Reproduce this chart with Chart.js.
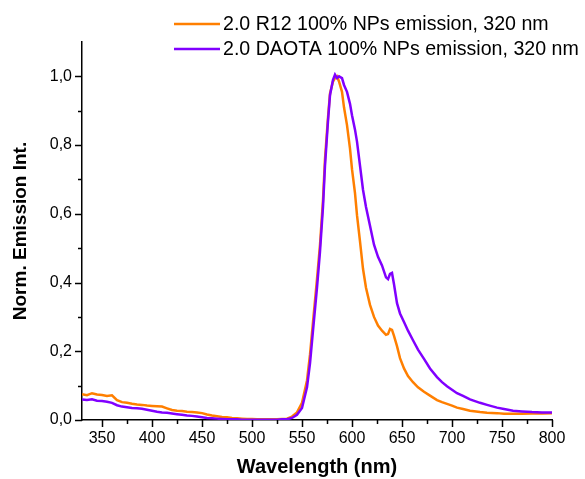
<!DOCTYPE html>
<html lang="en">
  <head>
    <meta charset="UTF-8" />
    <title>Normalized emission spectra</title>
    <script src="https://cdn.jsdelivr.net/npm/chart.js"></script>
    <style>
      html, body { margin: 0; padding: 0; background: #fff; }
      #wrap { width: 585px; height: 479px; }
    </style>
  </head>
  <body>
    <div id="wrap"><canvas id="spectrum"></canvas></div>
    <script>
      // Wavelength grid (nm), shared by both spectra
      const wavelength = [
        330, 335, 340, 345, 350, 355, 360, 365, 370, 375, 380, 385, 390, 395, 400,
        405, 410, 415, 420, 425, 430, 435, 440, 445, 450, 455, 460, 465, 470, 475,
        480, 485, 490, 495, 500, 505, 510, 515, 520, 525, 530, 535, 540, 545, 550,
        555, 558, 561, 565, 568, 571, 573, 576, 578, 581, 583, 585, 587, 590, 592,
        595, 598, 600, 603, 605, 608, 611, 614, 618, 622, 626, 630, 634, 636, 638,
        640, 642, 645, 648, 652, 656, 661, 666, 672, 678, 685, 690, 695, 700, 705,
        711, 718, 728, 735, 745, 752, 761, 770, 780, 790, 800
      ];
      // 2.0 R12 100% NPs emission, 320 nm
      const r12 = [
        0.075, 0.072, 0.078, 0.074, 0.073, 0.070, 0.072, 0.058, 0.052, 0.050, 0.047, 0.045, 0.044, 0.042, 0.041,
        0.040, 0.039, 0.034, 0.029, 0.027, 0.026, 0.024, 0.023, 0.022, 0.020, 0.016, 0.013, 0.011, 0.009, 0.008,
        0.006, 0.005, 0.004, 0.003, 0.003, 0.002, 0.002, 0.002, 0.002, 0.002, 0.003, 0.004, 0.010, 0.022, 0.050,
        0.115, 0.190, 0.285, 0.410, 0.510, 0.640, 0.760, 0.880, 0.950, 0.985, 0.995, 1.000, 0.985, 0.955, 0.910,
        0.858, 0.790, 0.730, 0.660, 0.596, 0.520, 0.440, 0.385, 0.335, 0.300, 0.275, 0.260, 0.248, 0.250, 0.265,
        0.262, 0.245, 0.215, 0.180, 0.150, 0.128, 0.110, 0.095, 0.082, 0.071, 0.058, 0.052, 0.047, 0.042, 0.036,
        0.032, 0.027, 0.023, 0.021, 0.020, 0.018, 0.018, 0.018, 0.019, 0.019, 0.020
      ];
      // 2.0 DAOTA 100% NPs emission, 320 nm
      const daota = [
        0.060, 0.058, 0.060, 0.056, 0.055, 0.053, 0.050, 0.043, 0.039, 0.037, 0.035, 0.034, 0.033, 0.030, 0.027,
        0.024, 0.022, 0.021, 0.019, 0.017, 0.015, 0.013, 0.012, 0.010, 0.008, 0.006, 0.005, 0.004, 0.003, 0.002,
        0.002, 0.002, 0.001, 0.001, 0.001, 0.001, 0.001, 0.001, 0.001, 0.001, 0.002, 0.002, 0.006, 0.015, 0.035,
        0.095, 0.165, 0.260, 0.385, 0.490, 0.620, 0.740, 0.870, 0.945, 0.990, 1.005, 0.995, 1.000, 0.995, 0.975,
        0.955, 0.920, 0.887, 0.845, 0.810, 0.740, 0.670, 0.620, 0.565, 0.510, 0.475, 0.450, 0.415, 0.410, 0.425,
        0.428, 0.395, 0.340, 0.310, 0.285, 0.260, 0.232, 0.205, 0.178, 0.150, 0.125, 0.110, 0.098, 0.088, 0.078,
        0.070, 0.060, 0.050, 0.044, 0.036, 0.032, 0.027, 0.025, 0.023, 0.022, 0.022
      ];
      const seriesLabels = [
        "2.0 R12 100% NPs emission, 320 nm",
        "2.0 DAOTA 100% NPs emission, 320 nm"
      ];
      const seriesColors = ["#ff7f00", "#8000ff"];
      const xTicks = [350, 375, 400, 425, 450, 475, 500, 525, 550, 575, 600, 625, 650, 675, 700, 725, 750, 775, 800];
      const yTicks = [0, 0.1, 0.2, 0.3, 0.4, 0.5, 0.6, 0.7, 0.8, 0.9, 1.0];

      const FONT = "'Liberation Sans', Arial, sans-serif";
      Chart.defaults.font.family = FONT;
      Chart.defaults.color = "#000";

      const toPoints = (ys) => wavelength.map((x, i) => ({ x: x, y: ys[i] }));

      // Major ticks outward and longer, minor ticks shorter
      const tickMarks = {
        id: "tickMarks",
        afterDraw(chart) {
          const ctx = chart.ctx;
          const area = chart.chartArea;
          const xs = chart.scales.x;
          const ys = chart.scales.y;
          ctx.save();
          ctx.strokeStyle = "#000";
          ctx.lineWidth = 1.5;
          xTicks.forEach((v) => {
            const px = Math.round(xs.getPixelForValue(v)) + 0.5;
            const len = v % 50 === 0 ? 7 : 4;
            ctx.beginPath();
            ctx.moveTo(px, area.bottom);
            ctx.lineTo(px, area.bottom + len);
            ctx.stroke();
          });
          yTicks.forEach((v) => {
            const py = Math.round(ys.getPixelForValue(v)) + 0.5;
            const major = Math.round(v * 10) % 2 === 0;
            ctx.beginPath();
            ctx.moveTo(area.left, py);
            ctx.lineTo(area.left - (major ? 7 : 4), py);
            ctx.stroke();
          });
          ctx.restore();
        }
      };

      // Two-row legend, left aligned, near the top right
      const sideLegend = {
        id: "sideLegend",
        afterDraw(chart) {
          const ctx = chart.ctx;
          ctx.save();
          ctx.font = "19.6px " + FONT;
          ctx.textBaseline = "middle";
          ctx.fillStyle = "#000";
          seriesLabels.forEach((label, i) => {
            const y = 24 + i * 25;
            ctx.strokeStyle = seriesColors[i];
            ctx.lineWidth = 2.5;
            ctx.beginPath();
            ctx.moveTo(174, y);
            ctx.lineTo(220, y);
            ctx.stroke();
            ctx.fillText(label, 223, y + 1);
          });
          ctx.restore();
        }
      };

      new Chart(document.getElementById("spectrum"), {
        type: "line",
        data: {
          datasets: [
            {
              label: seriesLabels[0],
              data: toPoints(r12),
              borderColor: seriesColors[0],
              backgroundColor: seriesColors[0],
              borderWidth: 2.5,
              pointRadius: 0,
              tension: 0,
              order: 2
            },
            {
              label: seriesLabels[1],
              data: toPoints(daota),
              borderColor: seriesColors[1],
              backgroundColor: seriesColors[1],
              borderWidth: 2.5,
              pointRadius: 0,
              tension: 0,
              order: 1
            }
          ]
        },
        options: {
          responsive: true,
          maintainAspectRatio: false,
          animation: false,
          layout: { padding: { top: 42, right: 33, left: 0, bottom: 0 } },
          plugins: {
            legend: { display: false },
            tooltip: { enabled: false }
          },
          scales: {
            x: {
              type: "linear",
              min: 330,
              max: 800,
              afterBuildTicks: (scale) => {
                scale.ticks = xTicks.map((v) => ({ value: v }));
              },
              afterFit: (scale) => {
                scale.height = 59;
              },
              grid: { display: true, drawOnChartArea: false, color: "transparent", tickLength: 7 },
              border: { display: true, color: "#000", width: 1.5 },
              ticks: {
                autoSkip: false,
                maxRotation: 0,
                padding: 2,
                font: { size: 16 },
                callback: (v) => (v % 50 === 0 ? String(v) : "")
              },
              title: {
                display: true,
                text: "Wavelength (nm)",
                font: { size: 20, weight: "bold" },
                padding: { top: 0, bottom: 0 }
              }
            },
            y: {
              min: 0,
              max: 1.1,
              afterBuildTicks: (scale) => {
                scale.ticks = yTicks.map((v) => ({ value: v }));
              },
              afterFit: (scale) => {
                scale.width = 82;
              },
              grid: { display: true, drawOnChartArea: false, color: "transparent", tickLength: 7 },
              border: { display: true, color: "#000", width: 1.5 },
              ticks: {
                autoSkip: false,
                padding: 3,
                font: { size: 16 },
                callback: (v) => (Math.round(v * 10) % 2 === 0 ? v.toFixed(1).replace(".", ",") : "")
              },
              title: {
                display: true,
                text: "Norm. Emission Int.",
                font: { size: 19, weight: "bold" },
                padding: { top: 9, bottom: 6 }
              }
            }
          }
        },
        plugins: [tickMarks, sideLegend]
      });
    </script>
  </body>
</html>
